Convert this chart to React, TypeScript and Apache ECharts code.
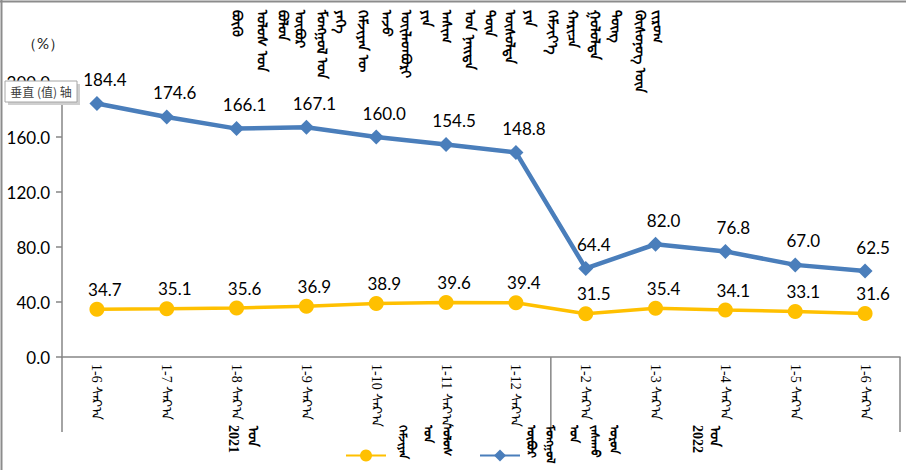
import React, { useEffect, useRef } from "react";
import * as echarts from "echarts";

// ---------- data ----------
const categories = [
  "2021 1-6", "2021 1-7", "2021 1-8", "2021 1-9", "2021 1-10", "2021 1-11", "2021 1-12",
  "2022 1-2", "2022 1-3", "2022 1-4", "2022 1-5", "2022 1-6",
];
const monthWord = "ᠰᠠᠷ᠎ᠠ";
const blueValues = [184.4, 174.6, 166.1, 167.1, 160.0, 154.5, 148.8, 64.4, 82.0, 76.8, 67.0, 62.5];
const yellowValues = [34.7, 35.1, 35.6, 36.9, 38.9, 39.6, 39.4, 31.5, 35.4, 34.1, 33.1, 31.6];
const yMin = 0;
const yMax = 200;
const yInterval = 40;
const years = ["2021", "2022"];
const yearWord = "ᠣᠨ";
const yearSplitIndex = 7;
const unitText = "（%）";
const axisHint = "垂直 (值) 轴";
const titleWords = [
  "ᠪᠦᠬᠦ", "ᠤᠯᠤᠰ ᠤᠨ", "ᠪᠣᠯᠤᠨ", "ᠥᠪᠥᠷ", "ᠮᠣᠩᠭᠣᠯ ᠤᠨ", "ᠶᠡᠬᠡ", "ᠬᠡᠮᠵᠢᠶᠡᠨ ᠦ",
  "ᠠᠵᠤ", "ᠦᠢᠯᠡᠳᠪᠦᠷᠢ", "ᠶᠢᠨ", "ᠠᠰᠢᠭ", "ᠤᠨ ᠨᠡᠢᠳᠡ", "ᠳᠦᠨ", "ᠥᠰᠦᠯᠲᠡ", "ᠶᠢᠨ",
  "ᠬᠡᠮᠵᠢᠶ᠎ᠡ", "ᠬᠠᠷᠢᠴᠠ", "ᠭᠤᠯᠤᠯᠲᠠ", "ᠳᠦᠩ", "ᠬᠦᠰᠦᠨᠦᠭ ᠦᠨ", "ᠵᠢᠷᠤᠭ",
];
const yellowLegendWords = ["ᠬᠡᠮᠵᠢᠶᠡᠨ", "ᠤᠨ", "ᠤᠯᠤᠰ"];
const blueLegendWords = ["ᠥᠪᠥᠷ", "ᠮᠣᠩᠭᠣᠯ", "ᠤᠨ", "ᠵᠠᠰᠠᠬᠤ", "ᠣᠷᠤᠨ"];

// ---------- layout ----------
const W = 906;
const H = 470;
const GRID_LEFT = 62;
const GRID_RIGHT_X = 900;
const GRID_TOP = 82;
const GRID_BOTTOM_Y = 357;
const SEP_BOTTOM_Y = 432;
const titleX = [237, 262, 283, 300, 322, 341, 363, 387, 406, 427, 447, 470, 490, 510, 530, 553, 573, 595, 616, 640, 658];
const yellowLegendX = [403, 428, 447];
const blueLegendX = [531, 550, 574, 595, 614];
const yearX = [[233, 252], [697, 714]];

const BLUE = "#4A7EBB";
const YELLOW = "#FFC000";
const AXIS = "#868686";
const NUM_FONT = "Lato, 'Open Sans', sans-serif";
const SERIF = "'Liberation Serif', 'DejaVu Serif', serif";
const MONG = "'Noto Sans', sans-serif";

function vText(x: number, y: number, text: string, fontSize = 13, font = MONG, weight = "normal") {
  return {
    type: "text",
    x,
    y,
    rotation: -Math.PI / 2,
    z: 50,
    style: {
      text,
      fontSize,
      fontFamily: font,
      fontWeight: weight,
      fill: "#000",
      align: "left",
      verticalAlign: "middle",
    },
  };
}

export default function App() {
  const ref = useRef<HTMLDivElement>(null);

  useEffect(() => {
    if (!ref.current) return;
    const chart = echarts.init(ref.current, undefined, { renderer: "svg" });

    const step = (GRID_RIGHT_X - GRID_LEFT) / categories.length;
    const sepX = GRID_LEFT + step * yearSplitIndex;

    const graphics: any[] = [];
    graphics.push({ type: "line", z: 40, shape: { x1: 0, y1: 1.5, x2: W, y2: 1.5 }, style: { stroke: "#8c8c8c", lineWidth: 2 } });
    graphics.push({ type: "line", z: 40, shape: { x1: 1.5, y1: 0, x2: 1.5, y2: H }, style: { stroke: "#8c8c8c", lineWidth: 2 } });
    [GRID_LEFT, sepX, GRID_RIGHT_X].forEach((x) => {
      graphics.push({ type: "line", z: 40, shape: { x1: x, y1: GRID_BOTTOM_Y, x2: x, y2: SEP_BOTTOM_Y }, style: { stroke: AXIS, lineWidth: 1.5 } });
    });
    titleWords.forEach((w, i) => graphics.push(vText(titleX[i], 10, w, 14, MONG, "bold")));
    graphics.push({ type: "text", x: 43, y: 43, z: 50, style: { text: unitText, fontSize: 15, fontFamily: NUM_FONT, fill: "#222", align: "center", verticalAlign: "middle" } });
    years.forEach((y, i) => {
      graphics.push(vText(yearX[i][0], 425, y, 14, SERIF, "bold"));
      graphics.push(vText(yearX[i][1], 426, yearWord, 14, SERIF, "bold"));
    });
    yellowLegendWords.forEach((w, i) => graphics.push(vText(yellowLegendX[i], 425, w, 12, MONG, "bold")));
    blueLegendWords.forEach((w, i) => graphics.push(vText(blueLegendX[i], 425, w, 12, MONG, "bold")));
    graphics.push({ type: "rect", z: 60, shape: { x: 8, y: 84, width: 72, height: 21 }, style: { fill: "#cfcfcf" } });
    graphics.push({ type: "rect", z: 61, shape: { x: 5, y: 81, width: 72, height: 21 }, style: { fill: "#fff", stroke: "#a6a6a6", lineWidth: 1 } });
    graphics.push({ type: "text", z: 62, x: 41, y: 91.5, style: { text: axisHint, fontSize: 12, fontFamily: "'Noto Sans CJK SC', sans-serif", fill: "#404040", align: "center", verticalAlign: "middle" } });

    const labelCommon = {
      show: true,
      position: "top",
      fontSize: 17,
      fontFamily: NUM_FONT,
      color: "#000",
      offset: [8, 0],
      formatter: (p: any) => Number(p.value).toFixed(1),
    };

    const yellowName = yellowLegendWords.join(" ");
    const blueName = blueLegendWords.join(" ");

    chart.setOption({
      animation: false,
      backgroundColor: "#fff",
      grid: { left: GRID_LEFT, right: W - GRID_RIGHT_X, top: GRID_TOP, bottom: H - GRID_BOTTOM_Y, containLabel: false },
      legend: {
        left: 340,
        top: 443,
        itemWidth: 40,
        itemHeight: 15,
        itemGap: 92,
        data: [yellowName, blueName],
        formatter: () => "",
        textStyle: { fontSize: 1 },
      },
      xAxis: {
        type: "category",
        data: categories,
        boundaryGap: true,
        axisLine: { lineStyle: { color: AXIS, width: 1.5 } },
        axisTick: { show: false },
        axisLabel: {
          rotate: -90,
          margin: 7,
          interval: 0,
          fontSize: 14,
          fontFamily: SERIF,
          color: "#000",
          formatter: (v: string) => `${v.split(" ")[1]} ${monthWord}`,
        },
        splitLine: { show: false },
      },
      yAxis: {
        type: "value",
        min: yMin,
        max: yMax,
        interval: yInterval,
        axisLine: { show: true, lineStyle: { color: AXIS, width: 1.5 } },
        axisTick: { show: true, length: 6, lineStyle: { color: AXIS, width: 1.5 } },
        axisLabel: { margin: 12, fontSize: 17, fontFamily: NUM_FONT, color: "#000", formatter: (v: number) => v.toFixed(1) },
        splitLine: { show: false },
      },
      series: [
        {
          name: yellowName,
          type: "line",
          data: yellowValues,
          symbol: "circle",
          symbolSize: 15,
          lineStyle: { color: YELLOW, width: 3.5 },
          itemStyle: { color: YELLOW },
          label: { ...labelCommon, distance: 4 },
          z: 3,
        },
        {
          name: blueName,
          type: "line",
          data: blueValues,
          symbol: "diamond",
          symbolSize: 15,
          lineStyle: { color: BLUE, width: 4.5 },
          itemStyle: { color: BLUE },
          label: { ...labelCommon, distance: 8 },
          z: 4,
        },
      ],
      graphic: graphics,
    });

    return () => chart.dispose();
  }, []);

  return (
    <div
      ref={ref}
      style={{ position: "fixed", left: 0, top: 0, width: W, height: H, background: "#fff" }}
    />
  );
}
